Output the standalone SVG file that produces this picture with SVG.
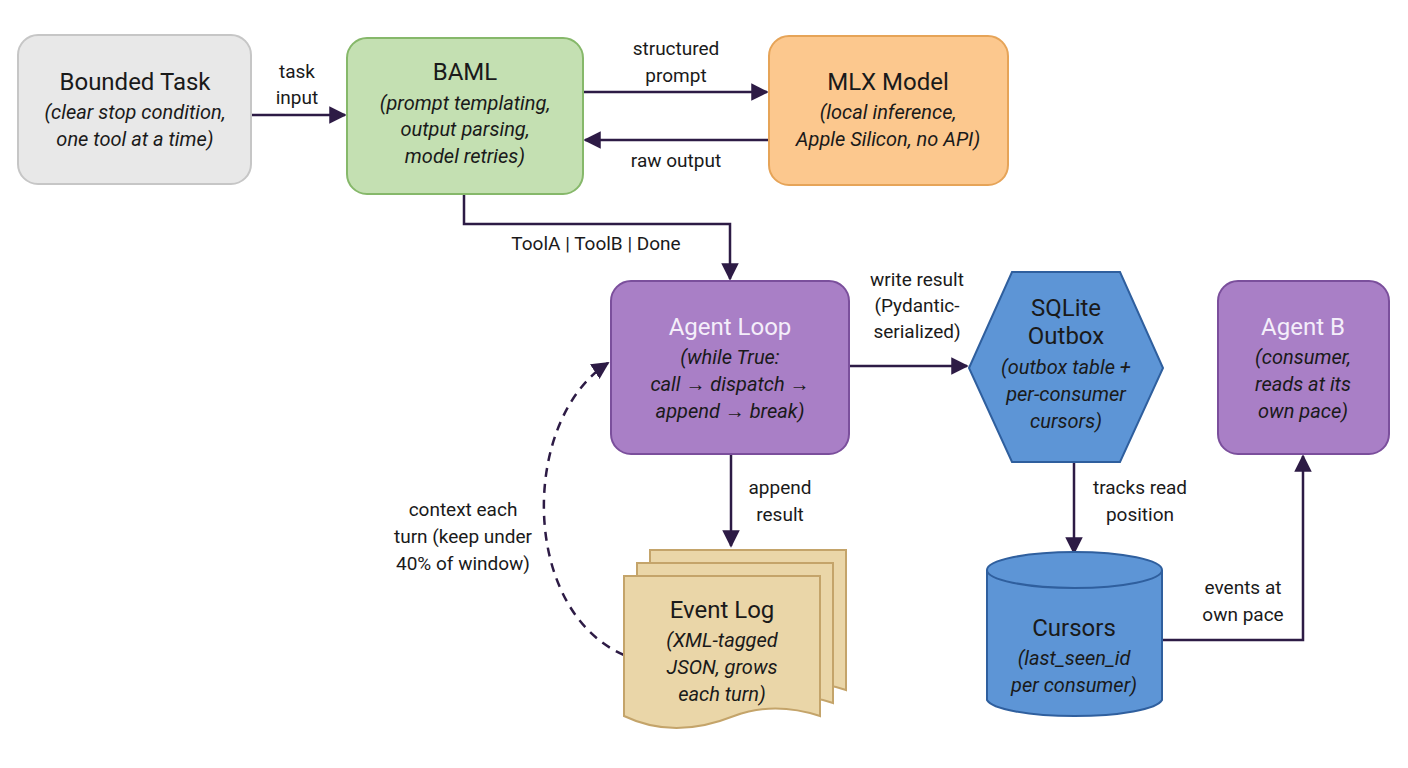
<svg xmlns="http://www.w3.org/2000/svg" width="1408" height="768" viewBox="0 0 1408 768">
<defs>
<marker id="ah" viewBox="0 0 10 10" refX="9" refY="5" markerWidth="7" markerHeight="7" orient="auto-start-reverse"><path d="M0,0 L10,5 L0,10 z" fill="#2d1b45"/></marker>
<style>
text{font-family:Roboto,"Liberation Sans",sans-serif;fill:#1a1a1a;text-anchor:middle}
.t{font-size:24px}
.s{font-size:20px;font-style:italic}
.l{font-size:19px}
.w{fill:#f4eefa}
.c{fill:none;stroke:#2d1b45;stroke-width:2.5}
.p{fill:#a97fc6;stroke:#7b4f9c;stroke-width:2}
.b{fill:#5d95d6;stroke:#2f5f9e;stroke-width:2}
</style>
</defs>
<rect width="1408" height="768" fill="#ffffff"/>
<g id="connectors">
<path class="c" d="M251,115 H345" marker-end="url(#ah)"/>
<path class="c" d="M583,92 H767" marker-end="url(#ah)"/>
<path class="c" d="M769,140 H585" marker-end="url(#ah)"/>
<path class="c" d="M464,194 V224 H730 V279" marker-end="url(#ah)"/>
<path class="c" d="M849,366 H967" marker-end="url(#ah)"/>
<path class="c" d="M731,454 V546" marker-end="url(#ah)"/>
<path class="c" d="M624,655 C520,610 520,420 608,363" stroke-dasharray="9,7" marker-end="url(#ah)"/>
<path class="c" d="M1074,462 V553" marker-end="url(#ah)"/>
<path class="c" d="M1162,640 H1303 V456" marker-end="url(#ah)"/>
<text class="l" x="297" y="78">task</text><text class="l" x="297" y="104">input</text>
<text class="l" x="676" y="55">structured</text><text class="l" x="676" y="82">prompt</text>
<text class="l" x="676" y="167">raw output</text>
<text class="l" x="596" y="250">ToolA | ToolB | Done</text>
<text class="l" x="917" y="286">write result</text><text class="l" x="917" y="312">(Pydantic-</text><text class="l" x="917" y="338">serialized)</text>
<text class="l" x="780" y="494">append</text><text class="l" x="780" y="521">result</text>
<text class="l" x="463" y="516">context each</text><text class="l" x="463" y="543">turn (keep under</text><text class="l" x="463" y="570">40% of window)</text>
<text class="l" x="1140" y="494">tracks read</text><text class="l" x="1140" y="521">position</text>
<text class="l" x="1243" y="594">events at</text><text class="l" x="1243" y="621">own pace</text>
</g>
<g id="bounded">
<rect x="18" y="35" width="233" height="149" rx="20" fill="#e8e8e8" stroke="#c6c6c6" stroke-width="2"/>
<text class="t" x="135" y="90">Bounded Task</text>
<text class="s" x="135" y="119">(clear stop condition,</text>
<text class="s" x="135" y="146">one tool at a time)</text>
</g>
<g id="baml">
<rect x="347" y="38" width="236" height="156" rx="20" fill="#c4e0b2" stroke="#86b86a" stroke-width="2"/>
<text class="t" x="465" y="80">BAML</text>
<text class="s" x="465" y="110">(prompt templating,</text>
<text class="s" x="465" y="136">output parsing,</text>
<text class="s" x="465" y="163">model retries)</text>
</g>
<g id="mlx">
<rect x="769" y="36" width="239" height="149" rx="20" fill="#fcc88e" stroke="#e6a458" stroke-width="2"/>
<text class="t" x="888" y="90">MLX Model</text>
<text class="s" x="888" y="119">(local inference,</text>
<text class="s" x="888" y="146">Apple Silicon, no API)</text>
</g>
<g id="agentloop">
<rect class="p" x="611" y="281" width="238" height="173" rx="20"/>
<text class="t w" x="730" y="335">Agent Loop</text>
<text class="s" x="730" y="364">(while True:</text>
<text class="s" x="730" y="391">call → dispatch →</text>
<text class="s" x="730" y="418">append → break)</text>
</g>
<g id="sqlite">
<polygon class="b" points="969,368 1012,272 1120,272 1163,368 1120,462 1012,462"/>
<text class="t" x="1066" y="316">SQLite</text>
<text class="t" x="1066" y="344">Outbox</text>
<text class="s" x="1066" y="374">(outbox table +</text>
<text class="s" x="1066" y="401">per-consumer</text>
<text class="s" x="1066" y="428">cursors)</text>
</g>
<g id="agentb">
<rect class="p" x="1218" y="281" width="171" height="173" rx="20"/>
<text class="t w" x="1303" y="335">Agent B</text>
<text class="s" x="1303" y="364">(consumer,</text>
<text class="s" x="1303" y="391">reads at its</text>
<text class="s" x="1303" y="418">own pace)</text>
</g>
<g id="eventlog" fill="#ead6a8" stroke="#c4a46a" stroke-width="2">
<path d="M650,550 H846 V690 Q800,675 760,690 Q700,705 650,690 Z"/>
<path d="M637,563 H833 V703 Q787,688 747,703 Q687,718 637,703 Z"/>
<path d="M624,576 H820 V716 Q774,701 734,716 Q674,740 624,716 Z"/>
<text class="t" x="722" y="618" stroke="none">Event Log</text>
<text class="s" x="722" y="647" stroke="none">(XML-tagged</text>
<text class="s" x="722" y="674" stroke="none">JSON, grows</text>
<text class="s" x="722" y="701" stroke="none">each turn)</text>
</g>
<g id="cursors">
<path class="b" d="M987,570 V700 A88,18 0 0 0 1162,700 V570"/>
<ellipse class="b" cx="1074.5" cy="570" rx="87.5" ry="18"/>
<text class="t" x="1074" y="636">Cursors</text>
<text class="s" x="1074" y="665">(last_seen_id</text>
<text class="s" x="1074" y="692">per consumer)</text>
</g>
</svg>
